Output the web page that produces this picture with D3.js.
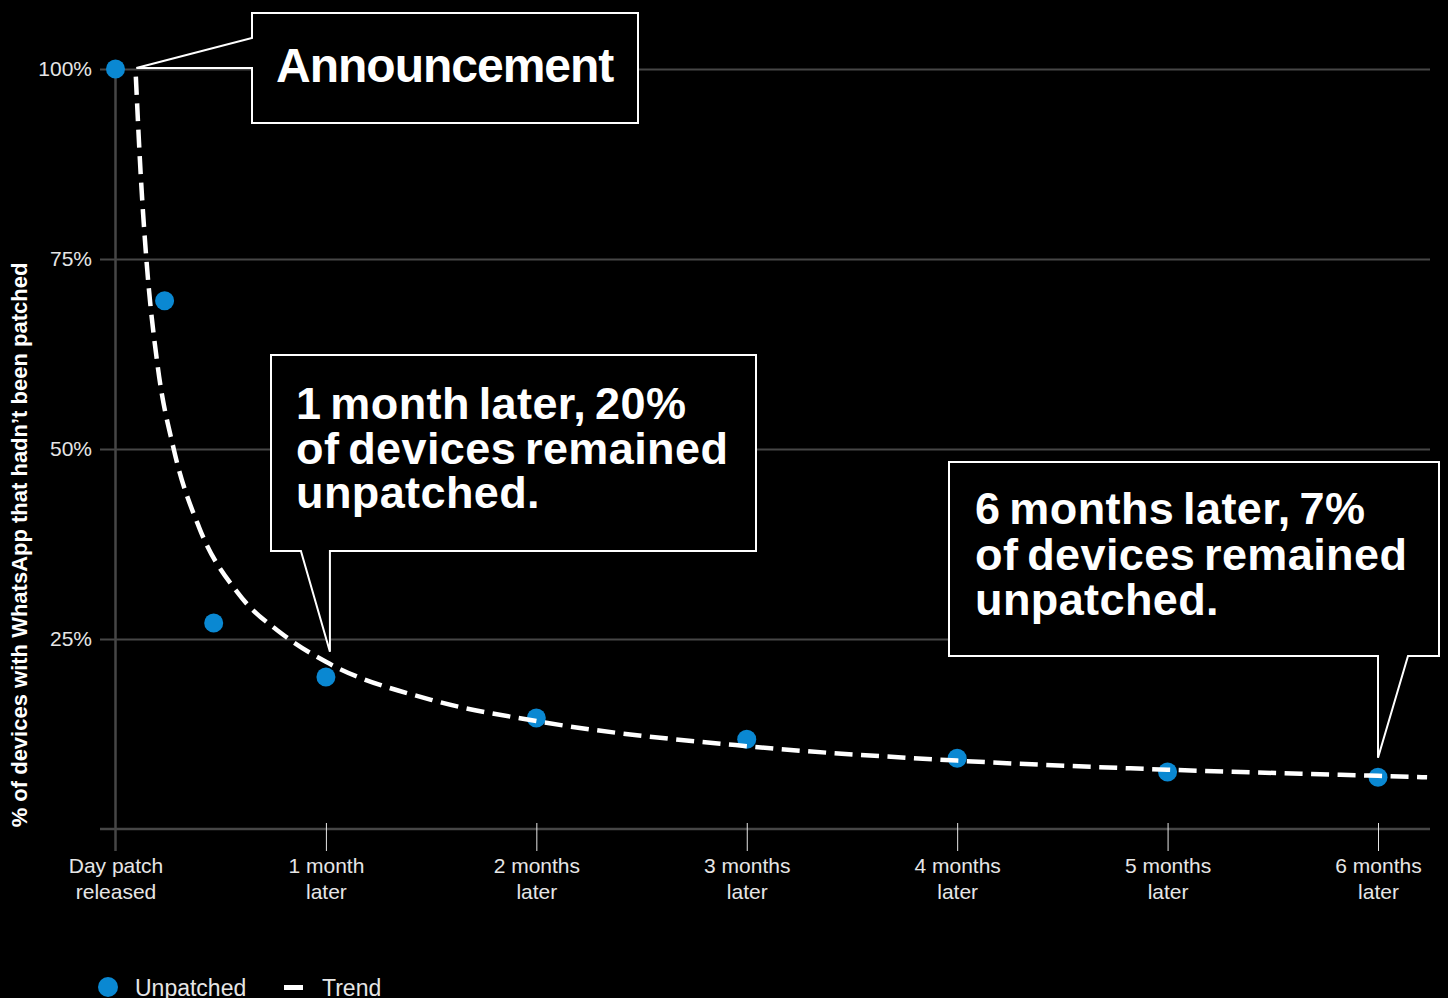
<!DOCTYPE html>
<html>
<head>
<meta charset="utf-8">
<script src="https://cdn.jsdelivr.net/npm/d3@7"></script>
<style>
  html, body { margin: 0; padding: 0; background: #000; }
  svg { display: block; }
  text { font-family: "Liberation Sans", Arial, Helvetica, sans-serif; }
</style>
</head>
<body>
<svg id="chart" width="1448" height="998"></svg>
<script>
// Share of devices still unpatched, by days since the patch was released
const pointDays   = [0, 7, 14, 30, 60, 90, 120, 150, 180];
const pointShares = [100, 69.5, 27.1, 20.0, 14.6, 11.8, 9.3, 7.5, 6.8];

// Trend line drawn through the scatter
const trendDays   = [2.9, 3.6, 4.4, 6, 8.3, 12, 17.5, 24, 30, 45, 60, 90, 120, 150, 180, 187];
const trendShares = [99, 86, 75, 61, 50, 39.5, 31, 25.5, 22, 17, 14.2, 10.9, 9.0, 7.8, 7.0, 6.8];

// Axis ticks
const xTickDays   = [0, 30, 60, 90, 120, 150, 180];
const xTickLabels = [["Day patch", "released"], ["1 month", "later"], ["2 months", "later"],
                     ["3 months", "later"], ["4 months", "later"], ["5 months", "later"],
                     ["6 months", "later"]];
const yTickValues = [25, 50, 75, 100];
const yTitle = "% of devices with WhatsApp that hadn\u2019t been patched";

// Callout texts
const announceText = "Announcement";
const monthOneText = ["1 month later, 20%", "of devices remained", "unpatched."];
const monthSixText = ["6 months later, 7%", "of devices remained", "unpatched."];

const legendItems = ["Unpatched", "Trend"];

const BLUE = "#0a88d2";
const GRID = "#464646";

const svg = d3.select("#chart");
svg.append("rect").attr("width", 1448).attr("height", 998).attr("fill", "#000");

const x = d3.scaleLinear().domain([0, 180]).range([115.5, 1378]);
const y = d3.scaleLinear().domain([0, 100]).range([829, 69]);
const gridLeft = 100, gridRight = 1430;

// Horizontal gridlines with percentage labels
const yAxis = d3.axisLeft(y)
  .tickValues(yTickValues)
  .tickFormat(d => d + "%")
  .tickSize(-(gridRight - gridLeft))
  .tickPadding(8);
const gy = svg.append("g").attr("transform", `translate(${gridLeft},0)`).call(yAxis);
gy.select(".domain").remove();
gy.selectAll(".tick line").attr("stroke", GRID).attr("stroke-width", 2);
gy.selectAll(".tick text")
  .attr("fill", "#e6e6e6")
  .style("font-size", "21px");

// Baseline and vertical axis
svg.append("line")
  .attr("x1", gridLeft).attr("x2", gridRight)
  .attr("y1", y(0)).attr("y2", y(0))
  .attr("stroke", GRID).attr("stroke-width", 2.5);
svg.append("line")
  .attr("x1", x(0)).attr("x2", x(0))
  .attr("y1", y(100)).attr("y2", 851)
  .attr("stroke", GRID).attr("stroke-width", 2.5);

// X ticks and two-line labels
const xAxis = d3.axisBottom(x)
  .tickValues(xTickDays)
  .tickSize(28)
  .tickFormat("");
const gx = svg.append("g").attr("transform", `translate(0,${y(0) - 6})`).call(xAxis);
gx.select(".domain").remove();
gx.selectAll(".tick line")
  .attr("stroke", (d, i) => i === 0 ? "none" : "#e6e6e6")
  .attr("stroke-width", 1);
gx.selectAll(".tick").each(function (d, i) {
  const t = d3.select(this).append("text")
    .attr("fill", "#e6e6e6")
    .attr("text-anchor", "middle")
    .style("font-size", "21px");
  xTickLabels[i].forEach((line, k) => {
    t.append("tspan").attr("x", 0).attr("y", 50 + k * 25.5).text(line);
  });
});

// Y axis title
svg.append("text")
  .attr("transform", `translate(27,${(262 + 828) / 2}) rotate(-90)`)
  .attr("text-anchor", "middle")
  .attr("fill", "#fff")
  .style("font-size", "22px")
  .style("font-weight", "bold")
  .text(yTitle);

// Scatter points
const points = pointDays.map((d, i) => ({ day: d, share: pointShares[i] }));
svg.append("g").selectAll("circle")
  .data(points)
  .join("circle")
  .attr("cx", d => x(d.day))
  .attr("cy", d => y(d.share))
  .attr("r", 9.5)
  .attr("fill", BLUE);

// Dashed trend line
const trend = trendDays.map((d, i) => ({ day: d, share: trendShares[i] }));
const line = d3.line()
  .x(d => x(d.day))
  .y(d => y(d.share))
  .curve(d3.curveMonotoneX);
svg.append("path")
  .datum(trend)
  .attr("d", line)
  .attr("fill", "none")
  .attr("stroke", "#fff")
  .attr("stroke-width", 4.5)
  .attr("stroke-dasharray", "18 8.5");

// Callout boxes with pointers
const calloutStyle = sel => sel.attr("fill", "#000").attr("stroke", "#fff").attr("stroke-width", 2);

function trendAt(day) {
  return trendShares[trendDays.indexOf(day)];
}

// Announcement: pointer aims at the start of the trend at 100%
{
  const tx = x(trend[0].day) + 0.5, ty = y(100) - 1;
  const bx0 = 252, bx1 = 638, by0 = 13, by1 = 123;
  const p = d3.path();
  p.moveTo(bx0, 38); p.lineTo(bx0, by0); p.lineTo(bx1, by0); p.lineTo(bx1, by1);
  p.lineTo(bx0, by1); p.lineTo(bx0, ty); p.lineTo(tx, ty); p.closePath();
  svg.append("path").attr("d", p.toString()).call(calloutStyle);
  svg.append("text")
    .attr("x", 276).attr("y", 82)
    .attr("fill", "#fff")
    .style("font-size", "48px").style("font-weight", "bold")
    .style("letter-spacing", "-1px")
    .text(announceText);
}

// One month callout: pointer sits just above the trend at 30 days
{
  const tx = x(30) + 4, ty = y(trendAt(30)) - 10;
  const bx0 = 271, bx1 = 756, by0 = 355, by1 = 551;
  const p = d3.path();
  p.moveTo(bx0, by0); p.lineTo(bx1, by0); p.lineTo(bx1, by1); p.lineTo(tx, by1);
  p.lineTo(tx, ty); p.lineTo(tx - 29, by1); p.lineTo(bx0, by1); p.closePath();
  svg.append("path").attr("d", p.toString()).call(calloutStyle);
  const t = svg.append("text").attr("fill", "#fff")
    .style("font-size", "45px").style("font-weight", "bold")
    .style("letter-spacing", "0.4px").style("word-spacing", "-4px");
  monthOneText.forEach((s, k) => t.append("tspan").attr("x", 296).attr("y", 419 + k * 44.5).text(s));
}

// Six month callout: pointer sits above the trend at 180 days
{
  const tx = x(180), ty = y(trendAt(180)) - 18;
  const bx0 = 949, bx1 = 1439, by0 = 462, by1 = 656;
  const p = d3.path();
  p.moveTo(bx0, by0); p.lineTo(bx1, by0); p.lineTo(bx1, by1); p.lineTo(tx + 30, by1);
  p.lineTo(tx, ty); p.lineTo(tx, by1); p.lineTo(bx0, by1); p.closePath();
  svg.append("path").attr("d", p.toString()).call(calloutStyle);
  const t = svg.append("text").attr("fill", "#fff")
    .style("font-size", "45px").style("font-weight", "bold")
    .style("letter-spacing", "0.4px").style("word-spacing", "-4px");
  monthSixText.forEach((s, k) => t.append("tspan").attr("x", 975).attr("y", 524 + k * 45.5).text(s));
}

// Legend
const legend = svg.append("g");
legend.append("circle").attr("cx", 108).attr("cy", 987).attr("r", 10).attr("fill", BLUE);
legend.append("text").attr("x", 135).attr("y", 996).attr("fill", "#e6e6e6")
  .style("font-size", "23px").text(legendItems[0]);
legend.append("rect").attr("x", 284).attr("y", 985).attr("width", 19).attr("height", 5).attr("fill", "#fff");
legend.append("text").attr("x", 322).attr("y", 996).attr("fill", "#e6e6e6")
  .style("font-size", "23px").text(legendItems[1]);
</script>
</body>
</html>
